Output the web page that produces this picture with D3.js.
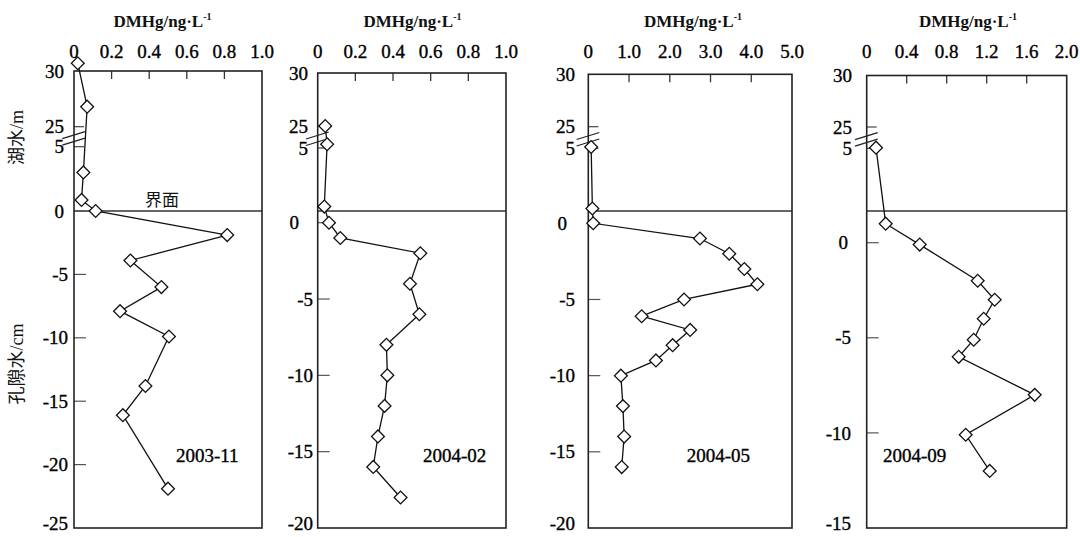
<!DOCTYPE html>
<html><head><meta charset="utf-8">
<script src="https://cdn.jsdelivr.net/npm/d3@7"></script>
<style>body{margin:0;background:#fff}svg{display:block}</style>
</head><body><svg id="c" width="1080" height="537"></svg>
<script>
// ---------------- data ----------------
const panelNames = ["2003-11", "2004-02", "2004-05", "2004-09"];
const xTitle = "DMHg/ng·L";
const xTitleSup = "-1";
const lakeTitle = "湖水/m";
const poreTitle = "孔隙水/cm";
const interfaceLabel = "界面";

const xMax = [1.0, 1.0, 5.0, 2.0];
const xTickValues = [
  [0, 0.2, 0.4, 0.6, 0.8, 1.0],
  [0, 0.2, 0.4, 0.6, 0.8, 1.0],
  [0, 1, 2, 3, 4, 5],
  [0, 0.4, 0.8, 1.2, 1.6, 2.0]
];
const xTickLabels = [
  ["0", "0.2", "0.4", "0.6", "0.8", "1.0"],
  ["0", "0.2", "0.4", "0.6", "0.8", "1.0"],
  ["0", "1.0", "2.0", "3.0", "4.0", "5.0"],
  ["0", "0.4", "0.8", "1.2", "1.6", "2.0"]
];
const lakeTicks = [30, 25, 5];
const poreMin = [-25, -20, -20, -15];
const poreTicks = [
  [0, -5, -10, -15, -20, -25],
  [0, -5, -10, -15, -20],
  [0, -5, -10, -15, -20],
  [0, -5, -10, -15]
];

// lake water (depth above interface, m) and pore water (depth, cm)
const lakeDepth1 = [30.7, 26.8, 3.0, 0.86];
const lakeValue1 = [0.02, 0.07, 0.05, 0.04];
const poreDepth1 = [0, -1.9, -3.9, -6, -7.9, -9.9, -13.8, -16.1, -21.9];
const poreValue1 = [0.115, 0.815, 0.30, 0.465, 0.245, 0.505, 0.38, 0.26, 0.50];

const lakeDepth2 = [25, 5.3, 0.35];
const lakeValue2 = [0.04, 0.05, 0.035];
const poreDepth2 = [0, -1, -2, -4, -6, -8, -10, -12, -14, -16, -18];
const poreValue2 = [0.06, 0.12, 0.545, 0.49, 0.54, 0.365, 0.37, 0.355, 0.32, 0.295, 0.44];

const lakeDepth3 = [5.1, 0.2];
const lakeValue3 = [0.07, 0.10];
const poreDepth3 = [0, -1, -2, -3, -4, -5, -6.1, -7, -8, -9, -10, -12, -14, -16];
const poreValue3 = [0.12, 2.74, 3.46, 3.83, 4.15, 2.35, 1.31, 2.5, 2.07, 1.66, 0.80, 0.85, 0.88, 0.82];

const lakeDepth4 = [5.05];
const lakeValue4 = [0.093];
const poreDepth4 = [1, -0.1, -2, -3, -4, -5.1, -6, -8, -10.1, -12];
const poreValue4 = [0.19, 0.53, 1.11, 1.28, 1.17, 1.07, 0.92, 1.68, 0.99, 1.23];

const lakeDepths = [lakeDepth1, lakeDepth2, lakeDepth3, lakeDepth4];
const lakeValues = [lakeValue1, lakeValue2, lakeValue3, lakeValue4];
const poreDepths = [poreDepth1, poreDepth2, poreDepth3, poreDepth4];
const poreValues = [poreValue1, poreValue2, poreValue3, poreValue4];

// ---------------- layout ----------------
const layout = [
  {x0: 74,    x1: 262,    top: 71,   y25: 126.7, y5: 146.7, pore0: 211,   lakeLX: 64,  poreLX: 68,  zeroLX: 64,  titleX: 162.5, yearX: 176},
  {x0: 317.7, x1: 506,    top: 73,   y25: 126,   y5: 148,   pore0: 222.7, lakeLX: 308, poreLX: 313, zeroLX: 299, titleX: 412.5, yearX: 423},
  {x0: 588.3, x1: 792,    top: 74.3, y25: 126.7, y5: 148.3, pore0: 223.3, lakeLX: 575, poreLX: 575, zeroLX: 567, titleX: 693,   yearX: 686.7},
  {x0: 866.7, x1: 1066.7, top: 75.5, y25: 127,   y5: 148.3, pore0: 242.7, lakeLX: 852, poreLX: 851, zeroLX: 848, titleX: 968,   yearX: 883}
];
const bottom = 528, interfaceY = 211;
const serif = "'Liberation Serif','Times New Roman',serif";
const cjk = "'Liberation Serif','Noto Sans CJK SC',serif";
const fs = 19;

const svg = d3.select("#c");
svg.append("rect").attr("width", 1080).attr("height", 537).attr("fill", "#fff");

function txt(sel) {
  return sel.attr("font-family", serif).attr("font-size", fs).attr("fill", "#000")
    .attr("stroke", "#000").attr("stroke-width", 0.35);
}

panelNames.forEach((name, i) => {
  const L = layout[i];
  const g = svg.append("g");
  const x = d3.scaleLinear().domain([0, xMax[i]]).range([L.x0, L.x1]);
  const yUp = d3.scaleLinear().domain([25, 30]).range([L.y25, L.top]);
  const yLow = d3.scaleLinear().domain([0, 5]).range([interfaceY, L.y5]);
  const yLake = d => d >= 25 ? yUp(d) : yLow(d);
  const yPore = d3.scaleLinear().domain([0, poreMin[i]]).range([L.pore0, bottom]);

  // interface line
  g.append("line").attr("x1", L.x0).attr("x2", L.x1).attr("y1", interfaceY).attr("y2", interfaceY)
    .attr("stroke", "#333").attr("stroke-width", 1.4);

  // top ticks (inward)
  xTickValues[i].forEach((v, k) => {
    if (k > 0 && k < xTickValues[i].length - 1) {
      g.append("line").attr("x1", x(v)).attr("x2", x(v)).attr("y1", L.top).attr("y2", L.top + 8)
        .attr("stroke", "#333").attr("stroke-width", 1.3);
    }
    txt(g.append("text")).attr("x", x(v)).attr("y", 58).attr("text-anchor", "middle").text(xTickLabels[i][k]);
  });

  // title
  const t = g.append("text").attr("x", L.titleX).attr("y", 27).attr("text-anchor", "middle")
    .attr("font-family", serif).attr("font-size", 17).attr("font-weight", "bold").attr("fill", "#111");
  t.append("tspan").text(xTitle);
  t.append("tspan").attr("font-size", 10).attr("dy", -7).text(xTitleSup);

  // lake ticks
  lakeTicks.forEach(v => {
    const yy = yLake(v);
    if (v !== 30) {
      g.append("line").attr("x1", L.x0).attr("x2", L.x0 + 10).attr("y1", yy).attr("y2", yy)
        .attr("stroke", "#444").attr("stroke-width", 1.2);
    }
    txt(g.append("text")).attr("x", L.lakeLX).attr("y", yy).attr("dy", "0.35em").attr("text-anchor", "end").text(v);
  });

  // pore ticks
  poreTicks[i].forEach(v => {
    const yy = yPore(v);
    const isMin = v === poreMin[i];
    if (!isMin) {
      g.append("line").attr("x1", L.x0).attr("x2", L.x0 + 12).attr("y1", yy).attr("y2", yy)
        .attr("stroke", "#555").attr("stroke-width", 1.2);
    }
    txt(g.append("text")).attr("x", v === 0 ? L.zeroLX : L.poreLX).attr("y", isMin ? yy - 5 : yy).attr("dy", "0.35em")
      .attr("text-anchor", "end").text(v === 0 ? "0" : "-" + Math.abs(v));
  });

  // box
  g.append("rect").attr("x", L.x0).attr("y", L.top).attr("width", L.x1 - L.x0).attr("height", bottom - L.top)
    .attr("fill", "none").attr("stroke", "#222").attr("stroke-width", 1.6);

  // break marks
  const bm = (L.y25 + L.y5) / 2;
  [[-2, 2], [4.5, 8.5]].forEach(([a, b]) => {
    g.append("line").attr("x1", L.x0 - 11.7).attr("x2", L.x0 + 11).attr("y1", bm + b).attr("y2", bm + a - 3)
      .attr("stroke", "#222").attr("stroke-width", 1.3);
  });

  // data
  const pts = lakeDepths[i].map((d, k) => [x(lakeValues[i][k]), yLake(d)])
    .concat(poreDepths[i].map((d, k) => [x(poreValues[i][k]), yPore(d)]));
  g.append("path").attr("d", d3.line()(pts)).attr("fill", "none").attr("stroke", "#111").attr("stroke-width", 1.3);
  const sym = d3.symbol(d3.symbolSquare, 82);
  g.selectAll("path.m").data(pts).enter().append("path").attr("class", "m")
    .attr("d", sym()).attr("transform", p => `translate(${p[0]},${p[1]}) rotate(45)`)
    .attr("fill", "#fff").attr("stroke", "#111").attr("stroke-width", 1.3);

  // year label
  txt(g.append("text")).attr("x", L.yearX).attr("y", 462).attr("font-size", 19).text(name);
});

// interface label
svg.append("text").attr("x", 145).attr("y", 206).attr("font-family", cjk).attr("font-size", 17)
  .attr("fill", "#111").text(interfaceLabel);

// axis titles
svg.append("text").attr("transform", "translate(23,137.5) rotate(-90)").attr("text-anchor", "middle")
  .attr("font-family", cjk).attr("font-size", 18).attr("fill", "#111").text(lakeTitle);
svg.append("text").attr("transform", "translate(23,364) rotate(-90)").attr("text-anchor", "middle")
  .attr("font-family", cjk).attr("font-size", 18).attr("fill", "#111").text(poreTitle);
</script></body></html>
